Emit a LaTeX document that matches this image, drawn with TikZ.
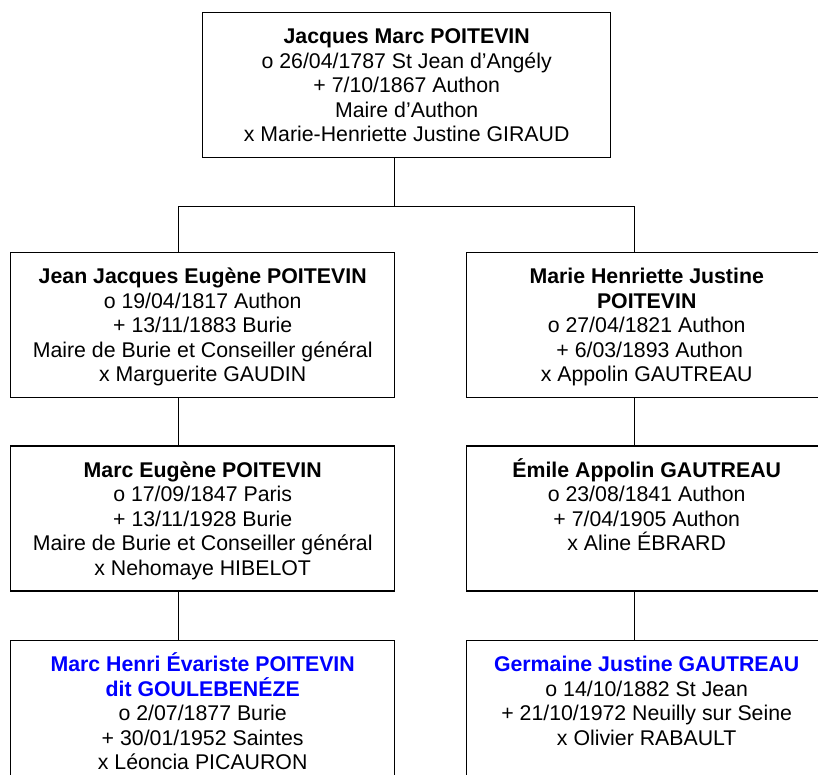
\documentclass[tikz,border=0pt]{standalone}
\usepackage{fontspec}
\setmainfont{Liberation Sans}
\usepackage{xcolor}
\usetikzlibrary{positioning}
\definecolor{bleu}{RGB}{0,0,255}
\newcommand{\fiche}[2]{\parbox[c][145pt][t]{#1}{\centering\rule{0pt}{31pt}#2}}

\begin{document}
\begin{tikzpicture}[x=1pt,y=-1pt,
    personne/.style={draw, line width=1.4pt, inner sep=0pt, font=\fontsize{21.3}{24.5}\selectfont},
    lien/.style={line width=1.4pt}]
\useasboundingbox (0,0) rectangle (818,775);
\clip (0,0) rectangle (818,775);
% Generation 1
\node[personne, anchor=north west] (top) at (202,12) {\fiche{408pt}{\textbf{Jacques Marc POITEVIN}\\
    o 26/04/1787 St Jean d’Angély\\ + 7/10/1867 Authon\\ Maire d’Authon\\ x Marie-Henriette Justine GIRAUD}};
% Generation 2
\node[personne, anchor=north west] (l2) at (10,252) {\fiche{384pt}{\textbf{Jean Jacques Eugène POITEVIN}\\
    o 19/04/1817 Authon\\ + 13/11/1883 Burie\\ Maire de Burie et Conseiller général\\ x Marguerite GAUDIN}};
\node[personne, anchor=north west] (r2) at (466,252) {\fiche{360pt}{\textbf{Marie Henriette Justine}\\ \textbf{POITEVIN}\\
    o 27/04/1821 Authon\\ \hspace*{6pt}+ 6/03/1893 Authon\\ x Appolin GAUTREAU}};
% Generation 3
\node[personne, below=47pt of l2] (l3) {\fiche{384pt}{\textbf{Marc Eugène POITEVIN}\\
    o 17/09/1847 Paris\\ + 13/11/1928 Burie\\ Maire de Burie et Conseiller général\\ x Nehomaye HIBELOT}};
\node[personne, below=47pt of r2] (r3) {\fiche{360pt}{\textbf{Émile Appolin GAUTREAU}\\
    o 23/08/1841 Authon\\ + 7/04/1905 Authon\\ x Aline ÉBRARD}};
% Generation 4
\node[personne, below=48pt of l3] (l4) {\fiche{384pt}{\textcolor{bleu}{\textbf{Marc Henri Évariste POITEVIN}}\\
    \textcolor{bleu}{\textbf{dit GOULEBENÉZE}}\\ o 2/07/1877 Burie\\ + 30/01/1952 Saintes\\ x Léoncia PICAURON}};
\node[personne, below=48pt of r3] (r4) {\fiche{360pt}{\textcolor{bleu}{\textbf{Germaine Justine GAUTREAU}}\\
    o 14/10/1882 St Jean\\ + 21/10/1972 Neuilly sur Seine\\ x Olivier RABAULT}};

% Liens
\coordinate (fourche) at ([xshift=-12pt,yshift=-48pt]top.south);
\draw[lien] ([xshift=-12pt]top.south) -- (fourche);
\draw[lien] ([xshift=-24pt]l2.north) |- ([xshift=-12pt]r2.north |- fourche) -- ([xshift=-12pt]r2.north);
\foreach \a/\b in {l2/l3,l3/l4}
    \draw[lien] ([xshift=-24pt]\a.south) -- ([xshift=-24pt]\b.north);
\foreach \a/\b in {r2/r3,r3/r4}
    \draw[lien] ([xshift=-12pt]\a.south) -- ([xshift=-12pt]\b.north);
\end{tikzpicture}
\end{document}
